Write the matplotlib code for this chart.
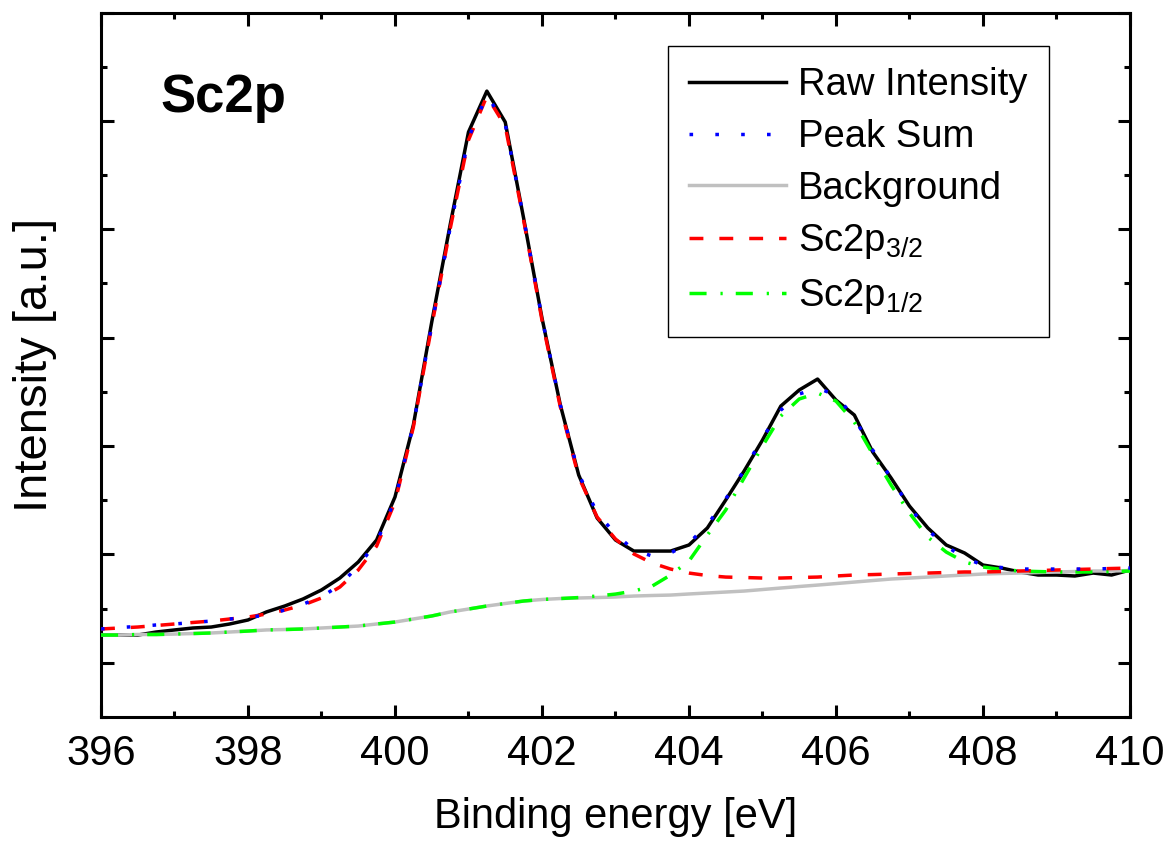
import matplotlib
matplotlib.use("Agg")
import matplotlib.pyplot as plt
import numpy as np
from matplotlib.ticker import MultipleLocator

plt.rcParams["font.family"] = ["Liberation Sans", "DejaVu Sans"]
plt.rcParams["mathtext.fontset"] = "custom"
plt.rcParams["mathtext.rm"] = "Liberation Sans"
plt.rcParams["mathtext.default"] = "regular"
plt.rcParams["lines.scale_dashes"] = False

# binding energy grid (eV), 0.25 eV step
energy = np.arange(396.0, 410.001, 0.25)

raw_intensity = [256, 256, 256, 284, 303, 321, 330, 358, 395, 469, 524, 589, 672, 782, 930, 1133,
                 1530, 2194, 3144, 4039, 4897, 5275, 4989, 4103, 3181, 2378, 1732, 1336, 1133, 1031,
                 1031, 1031, 1087, 1244, 1502, 1769, 2055, 2369, 2517, 2618, 2424, 2286, 1945, 1705,
                 1446, 1244, 1087, 1013, 902, 875, 838, 810, 810, 801, 828, 810, 856]

peak_sum = [312, 326, 335, 349, 358, 372, 385, 404, 418, 441, 487, 542, 607, 718, 893, 1114,
            1502, 2194, 3116, 4011, 4841, 5238, 4970, 4103, 3181, 2378, 1742, 1382, 1188, 1040,
            985, 1013, 1105, 1271, 1511, 1778, 2074, 2332, 2480, 2535, 2470, 2258, 1963, 1705,
            1437, 1225, 1077, 967, 902, 879, 865, 865, 865, 865, 865, 870, 874]

background = [256, 256, 261, 261, 265, 270, 275, 284, 293, 303, 307, 312, 321, 330, 339, 358,
              376, 404, 432, 469, 496, 524, 547, 570, 584, 593, 598, 602, 607, 616,
              621, 625, 635, 644, 653, 662, 676, 690, 704, 717, 731, 745, 759, 773,
              782, 791, 801, 810, 819, 824, 828, 833, 838, 842, 847, 847, 851]

sc2p32 = [312, 321, 330, 344, 358, 372, 385, 404, 422, 450, 487, 533, 598, 699, 856, 1077,
          1483, 2175, 3107, 4002, 4823, 5229, 4952, 4085, 3162, 2360, 1714, 1345, 1142, 1004,
          920, 865, 828, 805, 791, 787, 782, 782, 787, 791, 801, 810, 814, 819,
          824, 828, 833, 838, 838, 842, 847, 851, 856, 861, 865, 870, 874]

sc2p12 = [256, 256, 261, 261, 265, 270, 275, 284, 293, 303, 307, 312, 321, 330, 339, 358,
          376, 404, 432, 469, 496, 524, 547, 570, 584, 593, 602, 616, 634, 662,
          708, 810, 939, 1179, 1410, 1705, 1999, 2277, 2434, 2489, 2415, 2221, 1926, 1640,
          1382, 1160, 1022, 930, 884, 861, 847, 842, 838, 838, 838, 842, 847]

fig = plt.figure(figsize=(11.69, 8.46), dpi=100)
ax = fig.add_axes([0.0864, 0.1525, 0.8802, 0.8327])

lw = 2.5
h_raw, = ax.plot(energy, raw_intensity, color="black", lw=lw, label="Raw Intensity", zorder=2)
h_bg, = ax.plot(energy, background, color="#c0c0c0", lw=lw, label="Background", zorder=3)
h_12, = ax.plot(energy, sc2p12, color="#00ff00", lw=lw, dashes=(12.3, 10, 1.6, 9.4),
                label=r"Sc2p$_{1/2}$", zorder=4)
h_32, = ax.plot(energy, sc2p32, color="#ff0000", lw=lw, dashes=(10, 11.5),
                label=r"Sc2p$_{3/2}$", zorder=5)
h_sum, = ax.plot(energy, peak_sum, color="#0000ff", lw=lw, dashes=(2.6, 16),
                 label="Peak Sum", zorder=6)

ax.set_xlim(396, 410)
ax.set_ylim(-500, 6000)
ax.xaxis.set_major_locator(MultipleLocator(2))
ax.xaxis.set_minor_locator(MultipleLocator(1))
ax.yaxis.set_major_locator(MultipleLocator(1000))
ax.yaxis.set_minor_locator(MultipleLocator(500))
ax.tick_params(which="both", direction="in", top=True, right=True, width=2.2,
               labelsize=30, pad=12)
ax.tick_params(which="major", length=9)
ax.tick_params(which="minor", length=4.5)
ax.tick_params(axis="y", labelleft=False)
for sp in ax.spines.values():
    sp.set_linewidth(2.2)

ax.set_xlabel("Binding energy [eV]", fontsize=30, labelpad=17)
ax.set_ylabel("Intensity [a.u.]", fontsize=34, labelpad=20)

ax.text(0.0573, 0.859, "Sc2p", transform=ax.transAxes, fontsize=38,
        fontweight="bold", va="baseline", ha="left")

leg = ax.legend(handles=[h_raw, h_sum, h_bg, h_32, h_12], loc="upper right",
                bbox_to_anchor=(0.921, 0.952), fontsize=27.5, frameon=True,
                fancybox=False, edgecolor="black", framealpha=1,
                handlelength=2.55, handletextpad=0.32, borderpad=0.55,
                labelspacing=0.41, borderaxespad=0)
leg.get_frame().set_linewidth(1.0)

fig.savefig("out.png", dpi=100)
